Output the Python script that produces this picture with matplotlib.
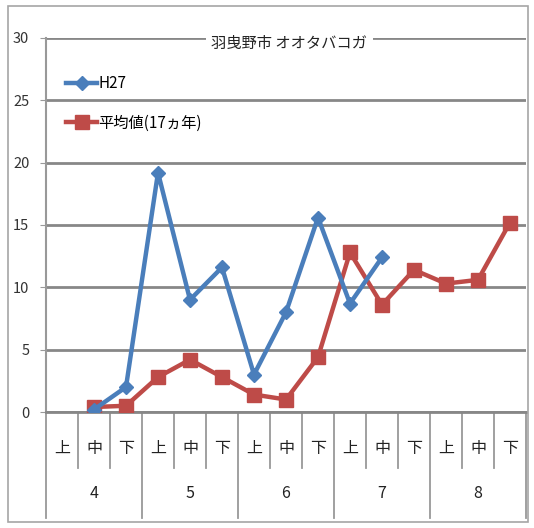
import matplotlib
matplotlib.use("Agg")
import matplotlib.pyplot as plt
import matplotlib.transforms as mtransforms
from matplotlib.patches import Rectangle

plt.rcParams['font.family'] = ['Noto Sans CJK JP', 'DejaVu Sans']

periods = ['上', '中', '下'] * 5
months = ['4', '5', '6', '7', '8']
h27 = [None, 0.2, 2.0, 19.2, 9.0, 11.6, 3.0, 8.0, 15.6, 8.7, 12.4, None, None, None, None]
avg17 = [None, 0.4, 0.5, 2.8, 4.2, 2.8, 1.4, 1.0, 4.4, 12.8, 8.6, 11.4, 10.3, 10.6, 15.2]
yticks = [0, 5, 10, 15, 20, 25, 30]
title = '羽曳野市 オオタバコガ'
label_h27 = 'H27'
label_avg = '平均値(17ヵ年)'

W, H = 534, 528
fig = plt.figure(figsize=(W / 100, H / 100), dpi=100)
fig.patch.set_facecolor('white')
# outer frame
fig.patches.append(Rectangle((8 / W, 6 / H), 520 / W, 516 / H, transform=fig.transFigure,
                             fill=False, edgecolor='#a6a6a6', lw=1.2))

ax = fig.add_axes([46 / W, 116 / H, 480 / W, 374 / H])
x = list(range(len(periods)))

def clean(vals):
    return [float('nan') if v is None else v for v in vals]

blue = '#4a7ebb'
red = '#be4b48'
ax.plot(x, clean(h27), color=blue, lw=3.2, marker='D', ms=7, mec=blue, mfc=blue,
        label=label_h27, zorder=4)
ax.plot(x, clean(avg17), color=red, lw=3.2, marker='s', ms=9.5, mec=red, mfc=red,
        label=label_avg, zorder=3)

ax.set_xlim(-0.5, len(periods) - 0.5)
ax.set_ylim(0, 30)
ax.set_yticks(yticks)
ax.set_yticklabels([str(t) for t in yticks], fontsize=10.5, color='#333333')
ax.yaxis.grid(True, color='#878787', lw=2)
ax.set_axisbelow(True)
for s in ['top', 'right']:
    ax.spines[s].set_visible(False)
ax.spines['left'].set_color('#999999')
ax.spines['left'].set_linewidth(1.5)
ax.spines['bottom'].set_color('#878787')
ax.spines['bottom'].set_linewidth(2)
ax.tick_params(axis='y', length=4, color='#999999', pad=8)

ax.set_xticks(x)
ax.set_xticklabels(periods, fontsize=11.5, color='#222222')
ax.tick_params(axis='x', length=0, pad=20)

trans = mtransforms.blended_transform_factory(ax.transData, ax.transAxes)
px = 1 / 374.0
for i in range(len(periods) + 1):
    xs = i - 0.5
    if i % 3 == 0:
        ax.plot([xs, xs], [0, -106 * px], transform=trans, color='#999999', lw=1.3,
                clip_on=False)
    else:
        ax.plot([xs, xs], [0, -56 * px], transform=trans, color='#999999', lw=1.3,
                clip_on=False)
for j, m in enumerate(months):
    ax.text(3 * j + 1, -81 * px, m, transform=trans, ha='center', va='center',
            fontsize=11.5, color='#222222')

ax.text(7.1, 29.6, title, ha='center', va='center', fontsize=11, color='#222222',
        bbox=dict(facecolor='white', edgecolor='none', pad=4), zorder=5)

leg = ax.legend(loc='upper left', bbox_to_anchor=(0.02, 0.93), frameon=False,
                fontsize=11, handlelength=2.0, labelspacing=1.5, handletextpad=0.1,
                borderaxespad=0.3)

fig.savefig('out.png', dpi=100)
